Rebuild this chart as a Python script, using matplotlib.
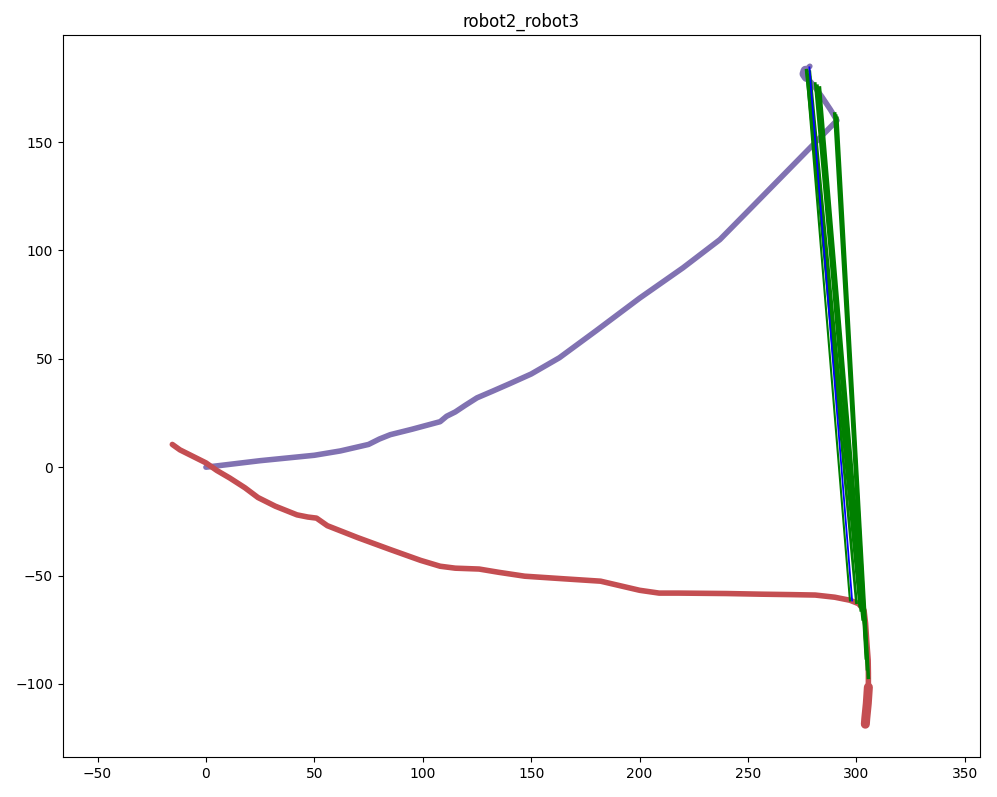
import numpy as np
import matplotlib
matplotlib.use("Agg")
import matplotlib.pyplot as plt

# robot2 path (purple)
r2_x = [0, 10, 25, 40, 50, 62, 75, 80, 85, 95, 108, 111, 115, 119.5, 125, 132, 140, 150,
        163, 180, 200, 220, 237, 250, 265, 280, 291, 288, 284, 280, 277, 276, 276.5, 277.5, 278.5]
r2_y = [0, 1.2, 3, 4.5, 5.5, 7.5, 10.5, 13, 15, 17.5, 21, 23.5, 25.5, 28.5, 32, 35, 38.5, 43,
        50.5, 63, 78, 92, 105, 118.2, 133.5, 148.8, 160, 165, 171, 176.5, 180, 181.5, 183, 184, 185]

# robot3 path (red)
r3_x = [-15.5, -12, -6, 0, 5, 11, 18, 24, 32, 42, 47, 51, 56, 70, 85, 99, 108, 115, 126, 135,
        147, 165, 182, 200, 209, 218, 240, 256, 270, 281, 290, 297, 301, 303.5, 304.2, 304.8,
        305.4, 305.5, 305.5, 305, 304.6, 304.3, 304.1]
r3_y = [10.5, 8, 5, 2, -1.5, -5, -9.5, -14, -18, -22, -23, -23.5, -27, -32.5, -38, -43, -45.7,
        -46.6, -47, -48.5, -50.3, -51.5, -52.6, -56.8, -58.1, -58.1, -58.3, -58.6, -58.8, -59,
        -60, -61.4, -63, -66, -72, -81, -89, -95, -101.5, -109, -113, -116, -118.6]

# matched observations robot2 -> robot3 (green)
obs2_x = [277, 277.5, 278, 278.5, 277, 281, 282, 283, 290, 290.5, 291]
obs2_y = [182, 181, 180, 182.5, 183, 177, 176, 175, 163, 162, 161]
obs3_x = [297, 300, 301.5, 302, 303, 302.5, 303, 304, 304.5, 305, 305.5]
obs3_y = [-61.5, -62.5, -64, -66, -70, -66, -68, -75, -88, -93, -97]
obs_lw = [1.5, 2, 2, 2, 2.5, 2, 2, 2.5, 2.5, 2.5, 2.5]

# direct link (blue)
link_x = [278.3, 298]
link_y = [184.5, -61.5]

purple = '#8172B2'
red = '#C44E52'

fig = plt.figure(figsize=(9.97, 7.97), dpi=100)
ax = fig.add_axes([0.063, 0.050, 0.920, 0.906])

ax.plot(r2_x, r2_y, color=purple, lw=4, solid_capstyle='round', solid_joinstyle='round')
ax.plot(r2_x[-5:-2], r2_y[-5:-2], color=purple, lw=7, solid_capstyle='round')
ax.plot(r3_x, r3_y, color=red, lw=4, solid_capstyle='round', solid_joinstyle='round')
ax.plot(r3_x[-5:], r3_y[-5:], color=red, lw=6.5, solid_capstyle='round')

for i in range(len(obs2_x)):
    ax.plot([obs2_x[i], obs3_x[i]], [obs2_y[i], obs3_y[i]], color='g', lw=obs_lw[i])

ax.plot(link_x, link_y, color='b', lw=1.3)

ax.set_xlim(-66, 357)
ax.set_ylim(-133.8, 199.4)
ax.set_xticks(np.arange(-50, 351, 50))
ax.set_yticks(np.arange(-100, 151, 50))
ax.set_title('robot2_robot3')

fig.savefig('out.png', dpi=100)
